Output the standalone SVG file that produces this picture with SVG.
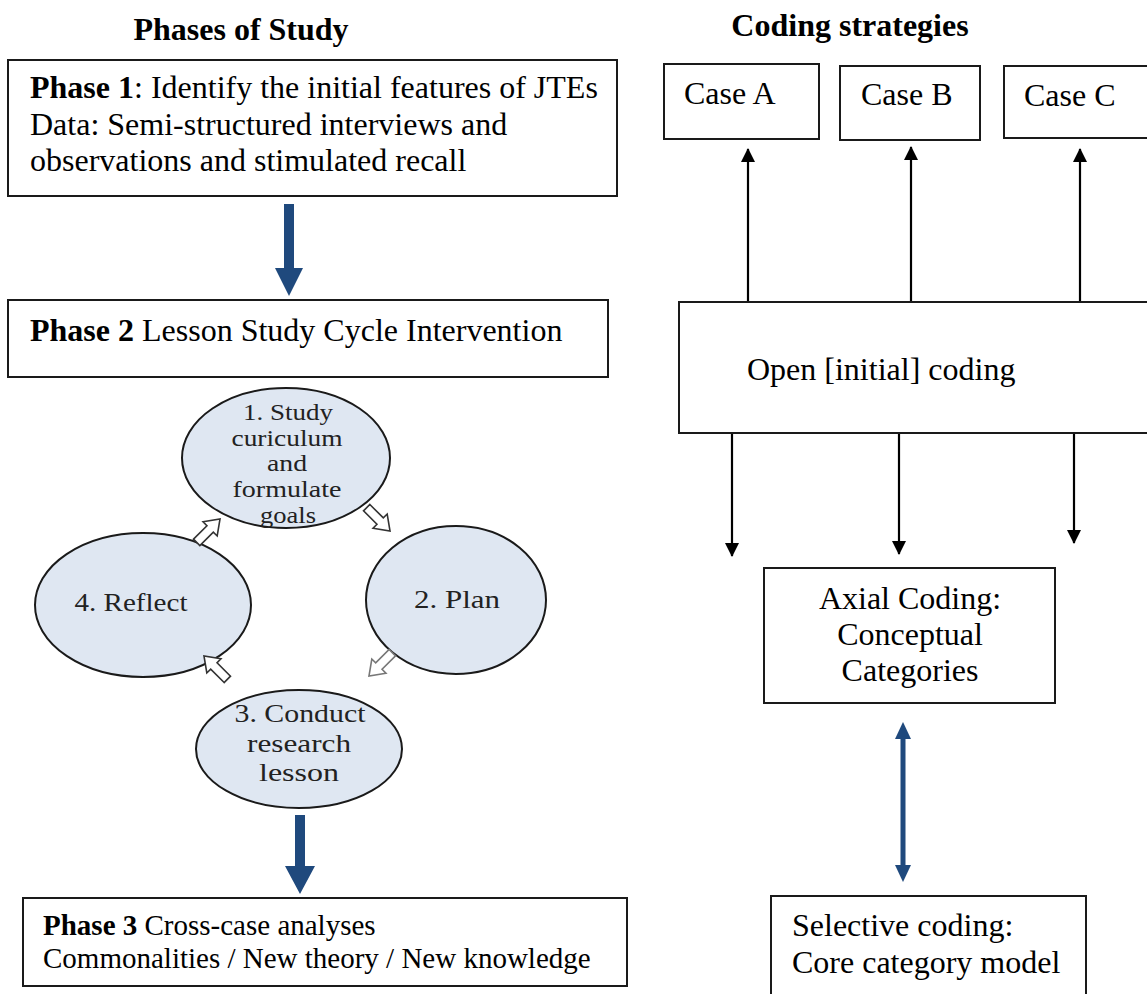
<svg xmlns="http://www.w3.org/2000/svg" width="1147" height="994" viewBox="0 0 1147 994">
<style>
.box{fill:#fff;stroke:#1a1a1a;stroke-width:2}
.t{font-family:"Liberation Serif","Times New Roman",serif;font-size:32px;fill:#000}
.b{font-weight:bold}
.p3{font-size:29px}
.ell{fill:#dfe7f2;stroke:#1a1a1a;stroke-width:2}
.et{font-family:"Liberation Serif","Times New Roman",serif;font-size:25px;fill:#222;text-anchor:middle}
.e1{font-size:23px}
.thin{stroke:#000;stroke-width:2.2;fill:none;marker-end:url(#ah)}
.blue{fill:#1f497d}
.hollow{fill:#fff;stroke:#333;stroke-width:1.6}
</style>
<defs>
<marker id="ah" markerUnits="userSpaceOnUse" markerWidth="14" markerHeight="16" refX="13" refY="7" orient="auto">
<path d="M0,0 L14,7 L0,14 Z" fill="#000"/>
</marker>
<path id="hol" d="M-16,-4.5 L3,-4.5 L3,-10 L17,0 L3,10 L3,4.5 L-16,4.5 Z"/>
</defs>
<rect width="1147" height="994" fill="#fff"/>

<g id="title-phases"><text class="t b" x="241" y="40" text-anchor="middle">Phases of Study</text></g>
<g id="title-coding"><text class="t b" x="850" y="36" text-anchor="middle">Coding strategies</text></g>

<g id="phase1">
<rect class="box" x="8" y="60" width="609" height="136"/>
<text class="t" x="30" y="98"><tspan class="b">Phase 1</tspan>: Identify the initial features of JTEs</text>
<text class="t" x="30" y="135">Data: Semi-structured interviews and</text>
<text class="t" x="30" y="171">observations and stimulated recall</text>
</g>

<g id="phase2">
<rect class="box" x="8" y="300" width="600" height="77"/>
<text class="t" x="30" y="341"><tspan class="b">Phase 2</tspan> Lesson Study Cycle Intervention</text>
</g>

<g id="step1">
<ellipse class="ell" cx="286" cy="458" rx="104" ry="70"/>
<text class="et e1" x="288" y="420" textLength="90" lengthAdjust="spacingAndGlyphs">1. Study</text>
<text class="et e1" x="287" y="446" textLength="111" lengthAdjust="spacingAndGlyphs">curiculum</text>
<text class="et e1" x="287" y="471" textLength="40" lengthAdjust="spacingAndGlyphs">and</text>
<text class="et e1" x="287" y="497" textLength="109" lengthAdjust="spacingAndGlyphs">formulate</text>
<text class="et e1" x="288" y="523" textLength="56" lengthAdjust="spacingAndGlyphs">goals</text>
</g>
<g id="step2">
<ellipse class="ell" cx="456" cy="600" rx="90" ry="74"/>
<text class="et" x="457" y="608" textLength="86" lengthAdjust="spacingAndGlyphs">2. Plan</text>
</g>
<g id="step3">
<ellipse class="ell" cx="299" cy="749" rx="103" ry="59"/>
<text class="et" x="300" y="722" textLength="131" lengthAdjust="spacingAndGlyphs">3. Conduct</text>
<text class="et" x="299" y="752" textLength="104" lengthAdjust="spacingAndGlyphs">research</text>
<text class="et" x="299" y="781" textLength="80" lengthAdjust="spacingAndGlyphs">lesson</text>
</g>
<g id="step4">
<ellipse class="ell" cx="143" cy="605" rx="108" ry="72"/>
<text class="et" x="131" y="611" textLength="113" lengthAdjust="spacingAndGlyphs">4. Reflect</text>
</g>

<g id="phase3">
<rect class="box" x="23" y="898" width="604" height="88"/>
<text class="t p3" x="43" y="935"><tspan class="b">Phase 3</tspan> Cross-case analyses</text>
<text class="t p3" x="43" y="968">Commonalities / New theory / New knowledge</text>
</g>

<g id="caseA">
<rect class="box" x="664" y="64" width="155" height="75"/>
<text class="t" x="684" y="104">Case A</text>
</g>
<g id="caseB">
<rect class="box" x="840" y="66" width="140" height="74"/>
<text class="t" x="861" y="105">Case B</text>
</g>
<g id="caseC">
<rect class="box" x="1004" y="66" width="150" height="72"/>
<text class="t" x="1024" y="106">Case C</text>
</g>

<g id="open">
<rect class="box" x="679" y="302" width="475" height="131"/>
<text class="t" x="747" y="380">Open [initial] coding</text>
</g>

<g id="axial">
<rect class="box" x="764" y="568" width="291" height="135"/>
<text class="t" x="910" y="609" text-anchor="middle">Axial Coding:</text>
<text class="t" x="910" y="645" text-anchor="middle">Conceptual</text>
<text class="t" x="910" y="681" text-anchor="middle">Categories</text>
</g>

<g id="selective">
<rect class="box" x="771" y="896" width="315" height="110"/>
<text class="t" x="792" y="936">Selective coding:</text>
<text class="t" x="792" y="973">Core category model</text>
</g>

<g id="connectors">
<path class="blue" d="M284,204 L294,204 L294,268 L303,268 L289,296 L275,268 L284,268 Z"/>
<path class="blue" d="M295,815 L305,815 L305,866 L315,866 L300,894 L285,866 L295,866 Z"/>
<use href="#hol" class="hollow" transform="translate(378,519) rotate(45)"/>
<use href="#hol" class="hollow" transform="translate(381,664) rotate(135)" style="stroke:#777"/>
<use href="#hol" class="hollow" transform="translate(216,668) rotate(-135)"/>
<use href="#hol" class="hollow" transform="translate(208,531) rotate(-45)"/>
<line class="thin" x1="748" y1="301" x2="748" y2="149"/>
<line class="thin" x1="911" y1="301" x2="911" y2="147"/>
<line class="thin" x1="1080" y1="301" x2="1080" y2="149"/>
<line class="thin" x1="732" y1="434" x2="732" y2="556"/>
<line class="thin" x1="899" y1="434" x2="899" y2="554"/>
<line class="thin" x1="1074" y1="434" x2="1074" y2="543"/>
<line x1="903" y1="736" x2="903" y2="868" stroke="#1f497d" stroke-width="5"/>
<path class="blue" d="M903,722 L911,739 L895,739 Z"/>
<path class="blue" d="M903,882 L911,865 L895,865 Z"/>
</g>
</svg>
